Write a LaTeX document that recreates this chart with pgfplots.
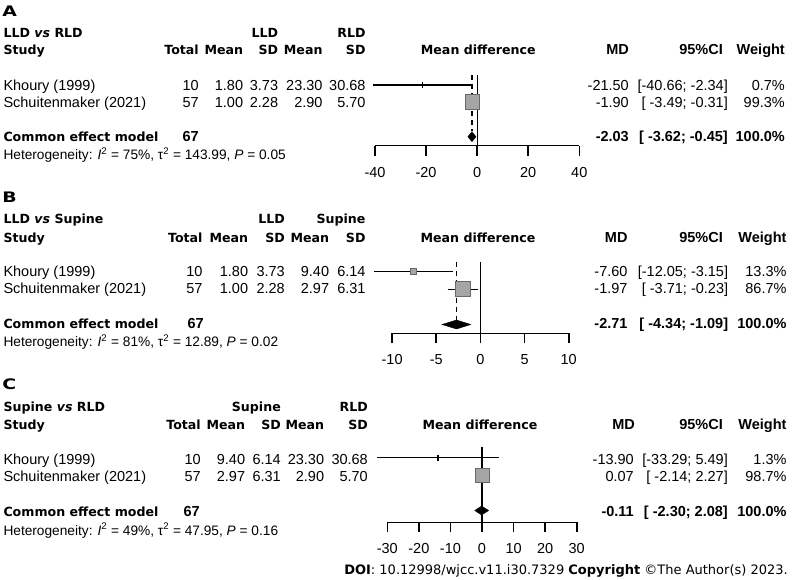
\documentclass[border=0pt]{standalone}
\usepackage{pgfplots}
\pgfplotsset{compat=1.18}
\usepackage{fontspec}
\setmainfont{Liberation Sans}
\newfontfamily\dv{DejaVu Sans}
\definecolor{sqfill}{RGB}{165,165,165}
\definecolor{sqdraw}{RGB}{105,105,105}
\newcommand{\nf}{\fontsize{14.5}{16}\selectfont}
\newcommand{\bff}{\fontsize{14.5}{16}\selectfont\bfseries}
\newcommand{\hf}{\dv\fontsize{12.6}{14}\selectfont\bfseries}
\newcommand{\smf}{\fontsize{13.7}{15}\selectfont}
\newcommand{\pf}{\dv\fontsize{14.5}{16}\selectfont\bfseries}
\pgfplotsset{
  fp/.style={scale only axis, clip=false, enlargelimits=false,
    axis x line*=bottom, axis y line=none,
    x axis line style={line width=1.6pt, black},
    tick align=outside, major tick length=10pt,
    xtick style={line width=1.6pt, black},
    xticklabel style={font=\nf, anchor=base, yshift=-21.5pt},
    anchor=south west},
  ci/.style={line width=1.3pt, black},
  zl/.style={line width=1.3pt, black},
  dl/.style={line width=1.3pt, black, dash pattern=on 5pt off 4pt},
}
\begin{document}
\begin{tikzpicture}[x=1pt,y=-1pt]
\useasboundingbox (0,0) rectangle (798,580);
\tikzset{L/.style={anchor=base west, inner sep=0pt}, R/.style={anchor=base east, inner sep=0pt}, C/.style={anchor=base, inner sep=0pt}, P/.style={anchor=base west, inner sep=0pt, xscale=1.3}}

% ---------------- Panel A ----------------
\begin{axis}[fp, at={(375pt,-145.7pt)}, width=204.3pt, height=75.7pt,
  xmin=-40, xmax=40, ymin=-145.7, ymax=-70,
  xtick={-40,-20,0,20,40}, xticklabels={-40,-20,0,20,40}]
\addplot[zl] coordinates {(0,-75) (0,-145.7)};
\addplot[dl] coordinates {(-2.03,-75) (-2.03,-131.5)};
\addplot[only marks, mark=square*, mark size=7.3pt, mark options={fill=sqfill, draw=sqdraw, line width=0.9pt}] coordinates {(-1.90,-101.8)};
\addplot[ci] coordinates {(-40.66,-85) (-2.34,-85)};
\addplot[ci] coordinates {(-21.50,-82) (-21.50,-88)};
\addplot[ci] coordinates {(-3.49,-101.8) (-0.31,-101.8)};
\addplot[ci] coordinates {(-1.90,-98.8) (-1.90,-104.8)};
\addplot[fill=black, draw=black] coordinates {(-3.62,-136.7) (-2.03,-131.7) (-0.45,-136.7) (-2.03,-141.7)} --cycle;
\end{axis}
\node[P] at (2,16.7) {\pf A};
\node[L] at (3.3,37.4) {\hf LLD \textit{vs} RLD};
\node[R] at (278.3,37.4) {\hf LLD};
\node[R] at (365.7,37.4) {\hf RLD};
\node[L] at (3.3,55) {\hf Study};
\node[R] at (199,55) {\hf Total};
\node[R] at (243.3,55) {\hf Mean};
\node[R] at (278.3,55) {\hf SD};
\node[R] at (322.7,55) {\hf Mean};
\node[R] at (365.7,55) {\hf SD};
\node[C] at (478.3,55) {\hf Mean difference};
\node[R] at (629,55) {\bff MD};
\node[R] at (723,55) {\bff 95\%CI};
\node[R] at (785,55) {\bff Weight};
\node[L] at (3.3,90.7) {\nf Khoury (1999)};
\node[R] at (199,90.7) {\nf 10};
\node[R] at (243.3,90.7) {\nf 1.80};
\node[R] at (278.3,90.7) {\nf 3.73};
\node[R] at (322.7,90.7) {\nf 23.30};
\node[R] at (365.7,90.7) {\nf 30.68};
\node[R] at (629,90.7) {\nf -21.50};
\node[R] at (728,90.7) {\nf [-40.66; -2.34]};
\node[R] at (785,90.7) {\nf 0.7\%};
\node[L] at (3.3,107.3) {\nf Schuitenmaker (2021)};
\node[R] at (199,107.3) {\nf 57};
\node[R] at (243.3,107.3) {\nf 1.00};
\node[R] at (278.3,107.3) {\nf 2.28};
\node[R] at (322.7,107.3) {\nf 2.90};
\node[R] at (365.7,107.3) {\nf 5.70};
\node[R] at (629,107.3) {\nf -1.90};
\node[R] at (728,107.3) {\nf [ -3.49; -0.31]};
\node[R] at (785,107.3) {\nf 99.3\%};
\node[L] at (3.3,141.3) {\hf Common effect model};
\node[R] at (199,141.3) {\bff 67};
\node[R] at (629,141.3) {\bff -2.03};
\node[R] at (728,141.3) {\bff [ -3.62; -0.45]};
\node[R] at (785,141.3) {\bff 100.0\%};
\node[L] at (3.3,159.3) {\smf Heterogeneity: \textit{I}\textsuperscript{2} = 75\%, τ\textsuperscript{2} = 143.99, \textit{P} = 0.05};

% ---------------- Panel B ----------------
\begin{axis}[fp, at={(392.1pt,-333.3pt)}, width=176.6pt, height=73.3pt,
  xmin=-10, xmax=10, ymin=-333.3, ymax=-260,
  xtick={-10,-5,0,5,10}, xticklabels={-10,-5,0,5,10}]
\addplot[zl] coordinates {(0,-261.7) (0,-333.3)};
\addplot[dl] coordinates {(-2.71,-261.7) (-2.71,-320)};
\addplot[only marks, mark=square*, mark size=3pt, mark options={fill=sqfill, draw=sqdraw, line width=0.9pt}] coordinates {(-7.60,-271.7)};
\addplot[only marks, mark=square*, mark size=7.4pt, mark options={fill=sqfill, draw=sqdraw, line width=0.9pt}] coordinates {(-1.97,-289.2)};
\addplot[ci] coordinates {(-12.05,-271.7) (-3.15,-271.7)};
\addplot[ci] coordinates {(-7.60,-268.7) (-7.60,-274.7)};
\addplot[ci] coordinates {(-3.71,-289.2) (-0.23,-289.2)};
\addplot[ci] coordinates {(-1.97,-286.2) (-1.97,-292.2)};
\addplot[fill=black, draw=black] coordinates {(-4.34,-324.5) (-2.71,-320) (-1.09,-324.5) (-2.71,-329)} --cycle;
\end{axis}
\node[P] at (2,202.3) {\pf B};
\node[L] at (3.3,224) {\hf LLD \textit{vs} Supine};
\node[R] at (285,224) {\hf LLD};
\node[R] at (365.7,224) {\hf Supine};
\node[L] at (3.3,242.7) {\hf Study};
\node[R] at (202.7,242.7) {\hf Total};
\node[R] at (248.3,242.7) {\hf Mean};
\node[R] at (285,242.7) {\hf SD};
\node[R] at (329.3,242.7) {\hf Mean};
\node[R] at (365.7,242.7) {\hf SD};
\node[C] at (478,242.7) {\hf Mean difference};
\node[R] at (627.7,242.7) {\bff MD};
\node[R] at (723,242.7) {\bff 95\%CI};
\node[R] at (786.7,242.7) {\bff Weight};
\node[L] at (3.3,276.7) {\nf Khoury (1999)};
\node[R] at (202.7,276.7) {\nf 10};
\node[R] at (248.3,276.7) {\nf 1.80};
\node[R] at (285,276.7) {\nf 3.73};
\node[R] at (329.3,276.7) {\nf 9.40};
\node[R] at (365.7,276.7) {\nf 6.14};
\node[R] at (627.7,276.7) {\nf -7.60};
\node[R] at (728.3,276.7) {\nf [-12.05; -3.15]};
\node[R] at (786.7,276.7) {\nf 13.3\%};
\node[L] at (3.3,294) {\nf Schuitenmaker (2021)};
\node[R] at (202.7,294) {\nf 57};
\node[R] at (248.3,294) {\nf 1.00};
\node[R] at (285,294) {\nf 2.28};
\node[R] at (329.3,294) {\nf 2.97};
\node[R] at (365.7,294) {\nf 6.31};
\node[R] at (627.7,294) {\nf -1.97};
\node[R] at (728.3,294) {\nf [ -3.71; -0.23]};
\node[R] at (786.7,294) {\nf 86.7\%};
\node[L] at (3.3,328.5) {\hf Common effect model};
\node[R] at (204,328.5) {\bff 67};
\node[R] at (627.7,328.5) {\bff -2.71};
\node[R] at (728.3,328.5) {\bff [ -4.34; -1.09]};
\node[R] at (786.7,328.5) {\bff 100.0\%};
\node[L] at (3.3,346.7) {\smf Heterogeneity: \textit{I}\textsuperscript{2} = 81\%, τ\textsuperscript{2} = 12.89, \textit{P} = 0.02};

% ---------------- Panel C ----------------
\begin{axis}[fp, at={(387.3pt,-522.3pt)}, width=189.4pt, height=77.3pt,
  xmin=-30, xmax=30, ymin=-522.3, ymax=-445,
  xtick={-30,-20,-10,0,10,20,30}, xticklabels={-30,-20,-10,0,10,20,30}]
\addplot[zl] coordinates {(0,-446.7) (0,-522.3)};
\addplot[dl] coordinates {(-0.11,-446.7) (-0.11,-506)};
\addplot[only marks, mark=square*, mark size=7.2pt, mark options={fill=sqfill, draw=sqdraw, line width=0.9pt}] coordinates {(0.07,-475.5)};
\addplot[ci] coordinates {(-33.29,-457.7) (5.49,-457.7)};
\addplot[ci] coordinates {(-13.90,-454.7) (-13.90,-460.7)};
\addplot[ci] coordinates {(-2.14,-475.5) (2.27,-475.5)};
\addplot[ci] coordinates {(0.07,-472.5) (0.07,-478.5)};
\addplot[fill=black, draw=black] coordinates {(-2.30,-510.5) (-0.11,-506) (2.08,-510.5) (-0.11,-515)} --cycle;
\end{axis}
\node[P] at (2,389.3) {\pf C};
\node[L] at (3.3,411) {\hf Supine \textit{vs} RLD};
\node[R] at (281,411) {\hf Supine};
\node[R] at (368,411) {\hf RLD};
\node[L] at (3.3,429.3) {\hf Study};
\node[R] at (201,429.3) {\hf Total};
\node[R] at (245.3,429.3) {\hf Mean};
\node[R] at (281,429.3) {\hf SD};
\node[R] at (324.3,429.3) {\hf Mean};
\node[R] at (368,429.3) {\hf SD};
\node[C] at (480,429.3) {\hf Mean difference};
\node[R] at (635,429.3) {\bff MD};
\node[R] at (723,429.3) {\bff 95\%CI};
\node[R] at (786.7,429.3) {\bff Weight};
\node[L] at (3.3,464) {\nf Khoury (1999)};
\node[R] at (201,464) {\nf 10};
\node[R] at (245.3,464) {\nf 9.40};
\node[R] at (281,464) {\nf 6.14};
\node[R] at (324.3,464) {\nf 23.30};
\node[R] at (368,464) {\nf 30.68};
\node[R] at (634,464) {\nf -13.90};
\node[R] at (728,464) {\nf [-33.29; 5.49]};
\node[R] at (786.7,464) {\nf 1.3\%};
\node[L] at (3.3,481) {\nf Schuitenmaker (2021)};
\node[R] at (201,481) {\nf 57};
\node[R] at (245.3,481) {\nf 2.97};
\node[R] at (281,481) {\nf 6.31};
\node[R] at (324.3,481) {\nf 2.90};
\node[R] at (368,481) {\nf 5.70};
\node[R] at (634,481) {\nf 0.07};
\node[R] at (728,481) {\nf [ -2.14; 2.27]};
\node[R] at (786.7,481) {\nf 98.7\%};
\node[L] at (3.3,516.7) {\hf Common effect model};
\node[R] at (200,516.7) {\bff 67};
\node[R] at (634,516.7) {\bff -0.11};
\node[R] at (728,516.7) {\bff [ -2.30; 2.08]};
\node[R] at (786.7,516.7) {\bff 100.0\%};
\node[L] at (3.3,535) {\smf Heterogeneity: \textit{I}\textsuperscript{2} = 49\%, τ\textsuperscript{2} = 47.95, \textit{P} = 0.16};

\node[R] at (788,574) {\dv\fontsize{13}{15}\selectfont\textbf{DOI}: 10.12998/wjcc.v11.i30.7329 \textbf{Copyright} ©The Author(s) 2023.};
\end{tikzpicture}
\end{document}
